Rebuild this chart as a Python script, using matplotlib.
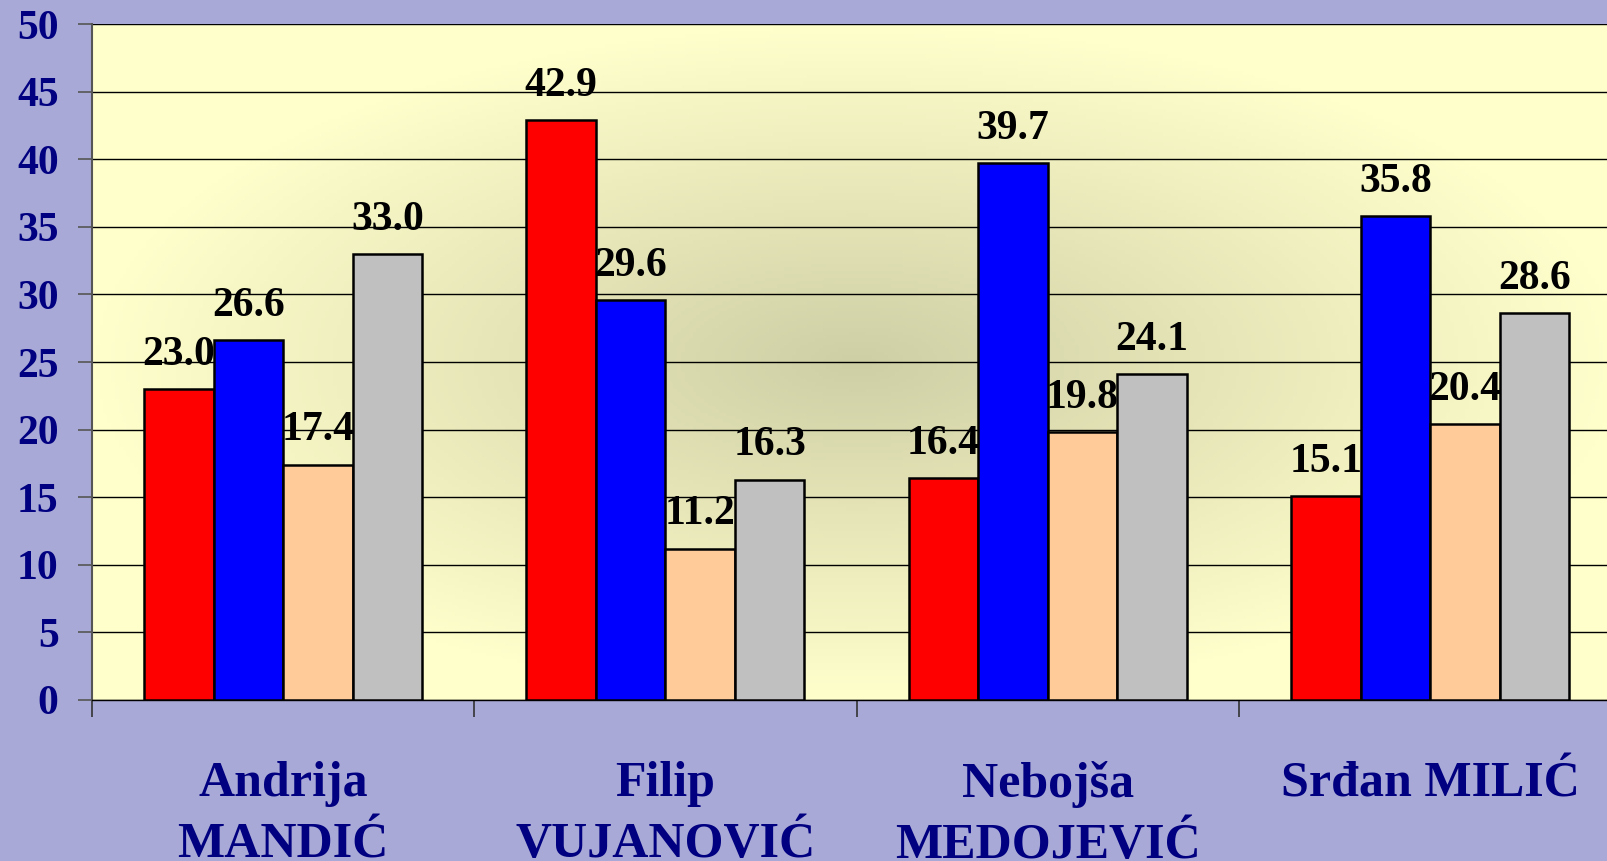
import numpy as np
import matplotlib.pyplot as plt
from matplotlib.colors import LinearSegmentedColormap

plt.rcParams['font.family'] = ['Liberation Serif', 'DejaVu Serif']
plt.rcParams['font.weight'] = 'bold'

# --- data ---
candidates = ["Andrija\nMANDIĆ", "Filip\nVUJANOVIĆ", "Nebojša\nMEDOJEVIĆ", "Srđan MILIĆ"]
series_a = [23.0, 42.9, 16.4, 15.1]
series_b = [26.6, 29.6, 39.7, 35.8]
series_c = [17.4, 11.2, 19.8, 20.4]
series_d = [33.0, 16.3, 24.1, 28.6]
series = [series_a, series_b, series_c, series_d]
colors = ["#FF0000", "#0000FF", "#FFCC99", "#C0C0C0"]

navy = "#000080"
fig = plt.figure(figsize=(16.08, 8.61), dpi=100, facecolor="#A9A9D7")
ax = fig.add_axes([0.0572, 0.187, 0.951, 0.785])

# plot-area fill: light yellow with darker centre
nx, ny = 400, 200
xx, yy = np.meshgrid(np.linspace(-1, 1, nx), np.linspace(-1, 1, ny))
r = np.clip(np.sqrt(xx**2 + yy**2), 0, 1)
cmap = LinearSegmentedColormap.from_list("bg", ["#CFCFA6", "#FFFFCC"])
ax.imshow(r, cmap=cmap, extent=(-0.5, 3.5, 0, 50), aspect="auto",
          origin="lower", zorder=0, vmin=0, vmax=1)

w = 1 / 5.5
x = np.arange(len(candidates))
for j, (vals, col) in enumerate(zip(series, colors)):
    pos = x + (j - 1.5) * w
    ax.bar(pos, vals, width=w, color=col, edgecolor="black", linewidth=1.8, zorder=3)
    for px, v in zip(pos, vals):
        ax.annotate(f"{v:.1f}", (px, v), xytext=(0, 17.5), textcoords="offset points",
                    ha="center", va="baseline", fontsize=30, fontweight="bold",
                    color="black", zorder=4)

ax.set_xlim(-0.5, 3.5)
ax.set_ylim(0, 50)
ax.set_yticks(np.arange(0, 51, 5))
ax.yaxis.grid(True, color="black", linewidth=1.0, zorder=1)
ax.set_axisbelow(True)
ax.tick_params(axis="y", length=10, width=1.2, color="#555555", pad=14,
               labelsize=30, labelcolor=navy)
for lbl in ax.get_yticklabels():
    lbl.set_fontweight("bold")

ax.set_xticks(x)
ax.set_xticklabels(candidates, fontsize=36, fontweight="bold", color=navy,
                   linespacing=1.43)
ax.tick_params(axis="x", length=0, pad=44)
ax.set_xticks(np.arange(-0.5, 3.6, 1), minor=True)
ax.tick_params(axis="x", which="minor", length=12, width=1.2, color="#333333")

for s in ["top", "right"]:
    ax.spines[s].set_visible(False)
ax.spines["left"].set_color("#555555")
ax.spines["left"].set_linewidth(1.5)
ax.spines["bottom"].set_color("black")
ax.spines["bottom"].set_linewidth(1.0)

fig.savefig("out.png", dpi=100, facecolor=fig.get_facecolor())
